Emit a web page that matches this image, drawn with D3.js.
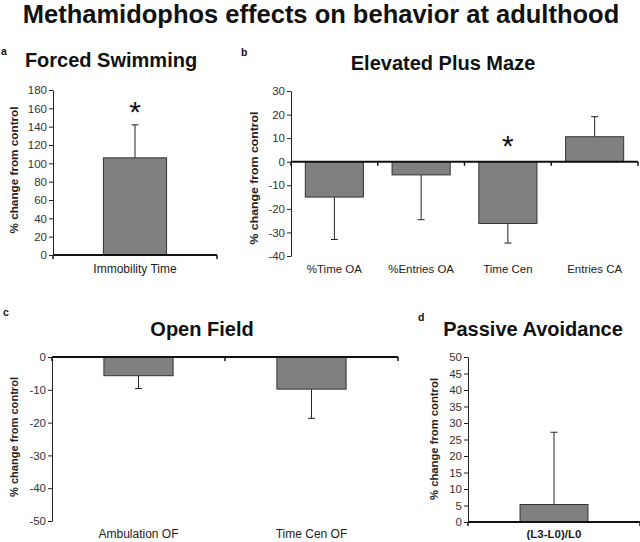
<!DOCTYPE html>
<html><head><meta charset="utf-8">
<script src="https://cdn.jsdelivr.net/npm/d3@7"></script>
<style>body{margin:0;background:#fff;} svg{display:block;font-family:"Liberation Sans",Arial,sans-serif;}</style>
</head><body>
<svg id="chart" width="640" height="542"></svg>
<script>
// ---- data ----
const fsCategories = ["Immobility Time"];
const fsValues = [106];
const fsErrors = [36];
const fsTicks = [0,20,40,60,80,100,120,140,160,180];

const epmCategories = ["%Time OA","%Entries OA","Time Cen","Entries CA"];
const epmValues = [-15,-5.6,-26.2,10.6];
const epmErrors = [18,19,8.3,8.5];
const epmTicks = [-40,-30,-20,-10,0,10,20,30];

const ofCategories = ["Ambulation OF","Time Cen OF"];
const ofValues = [-5.7,-9.8];
const ofErrors = [3.9,8.9];
const ofTicks = [-50,-40,-30,-20,-10,0];

const paCategories = ["(L3-L0)/L0"];
const paValues = [5.3];
const paErrors = [21.9];
const paTicks = [0,5,10,15,20,25,30,35,40,45,50];

const fsStars = [true];
const epmStars = [false,false,true,false];
const ofStars = [false,false];
const paStars = [false];

const svg = d3.select("#chart");

svg.append("text").attr("x",321).attr("y",23).attr("text-anchor","middle")
  .attr("font-size",25.5).attr("font-weight","bold").attr("fill","#111")
  .text("Methamidophos effects on behavior at adulthood");

function panel(o){
  const g = svg.append("g");
  const y = d3.scaleLinear().domain(o.domain).range([o.bottom,o.top]);
  const x = d3.scaleBand().domain(o.cats).range([o.left,o.right]);
  // title & letter
  g.append("text").attr("x",o.titleX).attr("y",o.titleY).attr("text-anchor","middle")
    .attr("font-size",20).attr("font-weight","bold").attr("fill","#111").text(o.title);
  g.append("text").attr("x",o.letterX).attr("y",o.letterY)
    .attr("font-size",10.5).attr("font-weight","bold").attr("fill","#111").text(o.letter);
  // y axis
  const ya = g.append("g").attr("transform",`translate(${o.left},0)`)
    .call(d3.axisLeft(y).tickValues(o.ticks).tickSize(4).tickSizeOuter(0).tickFormat(d=>String(d)));
  ya.select(".domain").attr("stroke","#222").attr("stroke-width",1);
  ya.selectAll(".tick line").attr("stroke","#222");
  ya.selectAll(".tick text").attr("font-size",11.5).attr("fill","#333").attr("x",-6)
    .attr("font-family","'Liberation Sans',Arial,sans-serif");
  // y label
  g.append("text").attr("transform",`translate(${o.ylabX},${o.ylabY}) rotate(-90)`)
    .attr("text-anchor","middle").attr("font-size",11).attr("font-weight","bold").attr("fill","#222")
    .attr("textLength",o.ylabLen).attr("lengthAdjust","spacingAndGlyphs")
    .text("% change from control");
  // bars
  const y0 = y(0);
  o.cats.forEach((c,i)=>{
    const v = o.vals[i], e = o.errs[i];
    const cx = x(c) + x.bandwidth()/2;
    const w = x.step()*o.frac;
    const ve = v >= 0 ? v + e : v - e;
    g.append("line").attr("x1",cx).attr("x2",cx).attr("y1",y(v)).attr("y2",y(ve))
      .attr("stroke","#222").attr("stroke-width",1);
    g.append("line").attr("x1",cx-3.5).attr("x2",cx+3.5).attr("y1",y(ve)).attr("y2",y(ve))
      .attr("stroke","#222").attr("stroke-width",1);
    g.append("rect").attr("x",cx-w/2).attr("width",w)
      .attr("y",Math.min(y(v),y0)).attr("height",Math.abs(y(v)-y0))
      .attr("fill","#808080").attr("stroke","#333").attr("stroke-width",1);
    if(o.stars[i]){
      g.append("text").attr("x",cx).attr("y",o.starY).attr("text-anchor","middle")
        .attr("font-size",30).attr("fill","#111").text("*");
    }
    g.append("text").attr("x",cx).attr("y",o.catY).attr("text-anchor","middle")
      .attr("font-size",o.catSize).attr("font-weight",o.catBold?"bold":"normal").attr("fill","#222").text(c);
  });
  // x axis line at zero
  g.append("line").attr("x1",o.left).attr("x2",o.right).attr("y1",y0).attr("y2",y0)
    .attr("stroke","#111").attr("stroke-width",2);
  const bounds = o.cats.map(c=>x(c)).concat([o.right]);
  bounds.forEach(b=>{
    g.append("line").attr("x1",b).attr("x2",b).attr("y1",y0).attr("y2",y0+4)
      .attr("stroke","#111").attr("stroke-width",1.5);
  });
}

panel({cats:fsCategories, vals:fsValues, errs:fsErrors, stars:fsStars, ticks:fsTicks,
  domain:[0,180], left:53, right:217, top:90, bottom:255, frac:0.385,
  title:"Forced Swimming", titleX:111, titleY:67, letter:"a", letterX:1, letterY:55,
  ylabX:18, ylabY:170, ylabLen:127, catY:273, catSize:12, starY:122});

panel({cats:epmCategories, vals:epmValues, errs:epmErrors, stars:epmStars, ticks:epmTicks,
  domain:[-40,30], left:291, right:638, top:91, bottom:256, frac:0.67,
  title:"Elevated Plus Maze", titleX:443, titleY:70, letter:"b", letterX:241, letterY:56,
  ylabX:258, ylabY:178, ylabLen:133, catY:273, catSize:11.5, starY:156});

panel({cats:ofCategories, vals:ofValues, errs:ofErrors, stars:ofStars, ticks:ofTicks,
  domain:[-50,0], left:52, right:398, top:357, bottom:521, frac:0.4,
  title:"Open Field", titleX:202, titleY:336, letter:"c", letterX:3, letterY:316,
  ylabX:18, ylabY:437, ylabLen:120, catY:538, catSize:12, starY:0});

panel({cats:paCategories, vals:paValues, errs:paErrors, stars:paStars, ticks:paTicks,
  domain:[0,50], left:468, right:640, top:357, bottom:522, frac:0.395,
  title:"Passive Avoidance", titleX:533, titleY:336, letter:"d", letterX:418, letterY:321,
  ylabX:438, ylabY:439, ylabLen:122, catY:538, catSize:11.5, starY:0, catBold:true});
</script>
</body></html>
